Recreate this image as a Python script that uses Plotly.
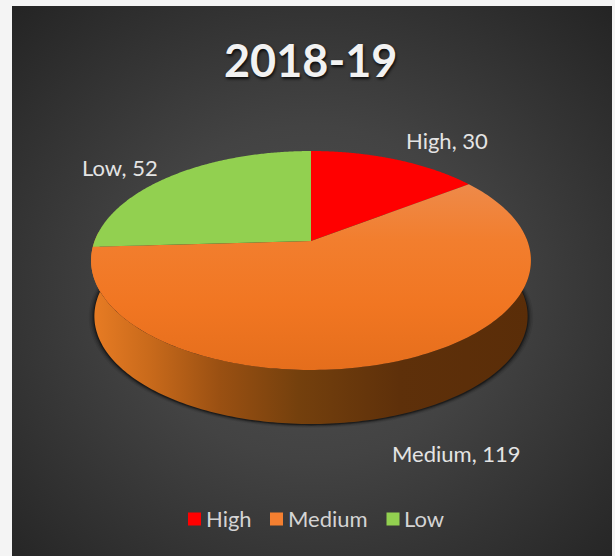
import base64
import math

import plotly.graph_objects as go

# Chart content
TITLE = "2018-19"
categories = ["High", "Medium", "Low"]
values = [30, 119, 52]
colors = ["#FF0000", "#F47F30", "#92D050"]
label_positions = [(447, 140), (456, 453), (120, 167)]
key_positions = [194.5, 276.5, 393]

# Tilted disc: the unit circle is projected on to pixel space
CX, APEX_Y = 311.0, 241.0
SCALE_X, SCALE_Y, TILT = 216.4, 106.0, 0.178
DEPTH, BASE_SHRINK = 56.0, 0.985


def project(angle, radius=1.0, drop=0.0, shrink=1.0):
    """Map a clockwise-from-north angle on the disc to pixel coordinates."""
    px = radius * math.sin(angle)
    py = radius * math.cos(angle)
    w = 1 + TILT * py
    return CX + shrink * SCALE_X * px / w, APEX_Y + drop - shrink * SCALE_Y * py / w


def arc(start, stop, steps=180, **kw):
    pts = [project(start + (stop - start) * i / steps, **kw) for i in range(steps + 1)]
    return [p[0] for p in pts], [p[1] for p in pts]


fig = go.Figure()

# Soft contact shadow under the disc
for grow, alpha in [(1.026, 0.07), (1.018, 0.12), (1.011, 0.2), (1.005, 0.35)]:
    xs, ys = arc(0, 2 * math.pi, 240, drop=DEPTH + 0.5, shrink=BASE_SHRINK * grow)
    fig.add_trace(go.Scatter(x=xs, y=ys, mode="none", fill="toself",
                             fillcolor=f"rgba(0,0,0,{alpha})",
                             hoverinfo="skip", showlegend=False))

# Outer wall, shaded from lit left to dark right
top_x, top_y = arc(math.radians(85), math.radians(275))
base_x, base_y = arc(math.radians(275), math.radians(85), drop=DEPTH, shrink=BASE_SHRINK)
fig.add_trace(go.Scatter(
    x=top_x + base_x, y=top_y + base_y, mode="none", fill="toself",
    fillgradient=dict(
        type="horizontal", start=92, stop=532,
        colorscale=[[0.0, "#E87C24"], [0.13, "#C96A1B"], [0.29, "#9A5012"],
                    [0.47, "#74400D"], [0.7, "#5E300A"], [1.0, "#5A2D08"]],
    ),
    hoverinfo="skip", showlegend=False,
))

# Top face, one wedge per category, running clockwise from north
total = sum(values)
start = 0.0
for name, value, color in zip(categories, values, colors):
    stop = start + 2 * math.pi * value / total
    xs, ys = arc(start, stop)
    xs, ys = [CX] + xs + [CX], [APEX_Y] + ys + [APEX_Y]
    style = dict(fillcolor=color)
    if name == "Medium":
        style = dict(fillgradient=dict(
            type="vertical", start=184, stop=370,
            colorscale=[[0.0, "#EE8A4A"], [0.3, "#F27E2E"],
                        [0.65, "#F17622"], [1.0, "#E56E1C"]],
        ))
    fig.add_trace(go.Scatter(x=xs, y=ys, mode="none", fill="toself",
                             hoverinfo="skip", showlegend=False, **style))
    start = stop

# Category key along the bottom
for name, color, kx in zip(categories, colors, key_positions):
    fig.add_trace(go.Scatter(
        x=[kx], y=[519], mode="markers", name=name,
        marker=dict(symbol="square", size=13, color=color),
        hoverinfo="skip", showlegend=False,
    ))
    fig.add_annotation(x=kx + 9, y=518.5, text=name, showarrow=False, xanchor="left",
                       font=dict(family="Lato", size=22, color="#D4D4D4"))

# Data labels
for name, value, (lx, ly) in zip(categories, values, label_positions):
    fig.add_annotation(x=lx, y=ly, text=f"{name}, {value}", showarrow=False,
                       font=dict(family="Lato", size=22, color="#E4E4E4"))

# Chart title
fig.add_annotation(x=310, y=60, text=f"<b>{TITLE}</b>", showarrow=False,
                   font=dict(family="Lato", size=45, color="#F2F2F2",
                             shadow="1px 2px 3px rgba(0,0,0,0.8)"))

# Dark panel with a radial glow
panel_svg = (
    '<svg xmlns="http://www.w3.org/2000/svg" width="600" height="550" '
    'preserveAspectRatio="none" viewBox="0 0 600 550">'
    '<defs><radialGradient id="g" cx="0.5" cy="0.52" r="0.72">'
    '<stop offset="0" stop-color="#505050"/>'
    '<stop offset="0.42" stop-color="#434343"/>'
    '<stop offset="1" stop-color="#242424"/>'
    '</radialGradient></defs>'
    '<rect width="600" height="550" fill="url(#g)"/></svg>'
)
panel_uri = "data:image/svg+xml;base64," + base64.b64encode(panel_svg.encode()).decode()

fig.update_layout(
    width=615, height=556,
    margin=dict(l=0, r=0, t=0, b=0),
    paper_bgcolor="#F4F4F4", plot_bgcolor="rgba(0,0,0,0)",
    xaxis=dict(range=[0, 615], visible=False, fixedrange=True),
    yaxis=dict(range=[556, 0], visible=False, fixedrange=True),
    images=[dict(source=panel_uri, xref="x", yref="y", x=12, y=6,
                 sizex=600, sizey=550, sizing="stretch", layer="below",
                 xanchor="left", yanchor="top")],
    showlegend=False,
)

fig.write_html("out.html")
